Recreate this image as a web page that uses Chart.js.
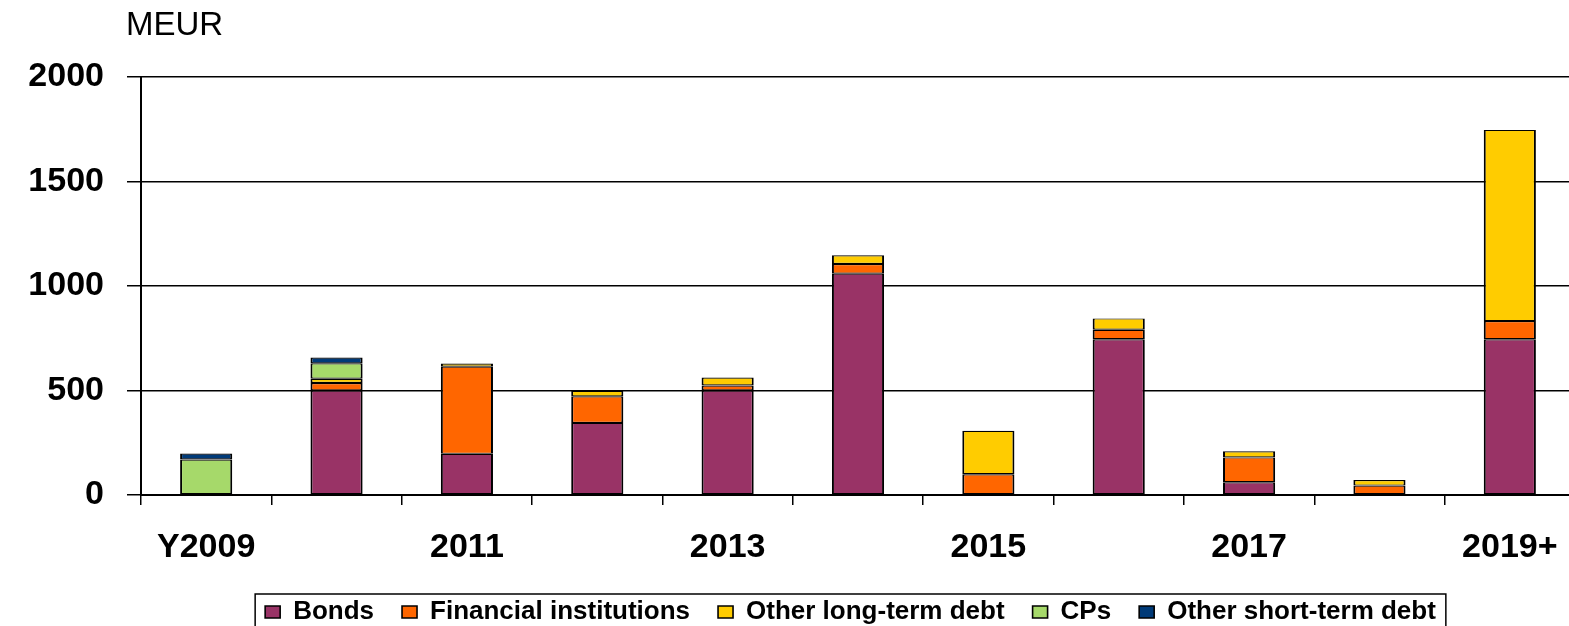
<!DOCTYPE html>
<html lang="en">
  <head>
    <meta charset="utf-8" />
    <title>MEUR debt maturity</title>
    <style>
      html, body { margin: 0; padding: 0; background: #fff; overflow: hidden; }
      #wrap { position: relative; width: 1575px; height: 626px; }
    </style>
  </head>
  <body>
    <div id="wrap">
      <canvas id="myChart"></canvas>
    </div>
    <script src="https://cdn.jsdelivr.net/npm/chart.js"></script>
    <script>
      // categories + stacked series (MEUR)
      const years = ['Y2009', '2010', '2011', '2012', '2013', '2014', '2015', '2016', '2017', '2018', '2019+'];
      const bonds = [null, 500, 197, 345, 500, 1059, null, 745, 61, null, 745];
      const financialInst = [null, 36, 417, 127, 24, 46, 99, 46, 119, 45, 87];
      const otherLongTerm = [null, 20, 15, 27, 38, 42, 208, 54, 29, 27, 915];
      const cps = [170, 74, null, null, null, null, null, null, null, null, null];
      const otherShortTerm = [28, 28, null, null, null, null, null, null, null, null, null];
      const yTicks = [0, 500, 1000, 1500, 2000];

      const font = "'Liberation Sans', Arial, sans-serif";
      Chart.defaults.font.family = font;
      Chart.defaults.color = '#000';

      function series(label, values, color) {
        return {
          label: label,
          data: values,
          backgroundColor: color,
          borderColor: '#000',
          borderWidth: { top: 1.2, bottom: 1.2, left: 2, right: 2 },
          borderSkipped: false,
          categoryPercentage: 1,
          barPercentage: 0.4,
        };
      }

      // "MEUR" unit label above the value axis
      const unitLabel = {
        id: 'unitLabel',
        afterDraw(chart) {
          const ctx = chart.ctx;
          ctx.save();
          ctx.font = '33px ' + font;
          ctx.fillStyle = '#000';
          ctx.textBaseline = 'middle';
          ctx.textAlign = 'left';
          ctx.fillText('MEUR', chart.chartArea.left - 15, 26);
          ctx.restore();
        },
      };

      // legend sits a bit right of centre in the original, with a frame round it
      const legendFrame = {
        id: 'legendFrame',
        afterLayout(chart) {
          chart.legend.left += 63;
          chart.legend.right += 63;
        },
        afterDraw(chart) {
          const boxes = chart.legend.legendHitBoxes;
          if (!boxes || !boxes.length) return;
          let x0 = Infinity, x1 = -Infinity, y0 = Infinity, y1 = -Infinity;
          boxes.forEach((b) => {
            x0 = Math.min(x0, b.left);
            x1 = Math.max(x1, b.left + b.width);
            y0 = Math.min(y0, b.top);
            y1 = Math.max(y1, b.top + b.height);
          });
          const ctx = chart.ctx;
          ctx.save();
          ctx.strokeStyle = '#000';
          ctx.lineWidth = 1.5;
          ctx.strokeRect(x0 - 10, y0 - 5, x1 - x0 + 20, y1 - y0 + 12);
          ctx.restore();
        },
      };

      const config = {
        type: 'bar',
        data: {
          labels: years,
          datasets: [
            series('Bonds', bonds, '#993366'),
            series('Financial institutions', financialInst, '#ff6600'),
            series('Other long-term debt', otherLongTerm, '#ffcc00'),
            series('CPs', cps, '#a6d96a'),
            series('Other short-term debt', otherShortTerm, '#003a78'),
          ],
        },
        options: {
          responsive: true,
          maintainAspectRatio: false,
          animation: false,
          layout: { padding: { top: 77, right: 0, bottom: -9, left: 0 } },
          plugins: {
            tooltip: { enabled: false },
            legend: {
              position: 'bottom',
              labels: {
                font: { size: 26, weight: 'bold' },
                boxWidth: 15,
                boxHeight: 12,
                padding: 28,
              },
            },
          },
          scales: {
            x: {
              stacked: true,
              offset: true,
              border: { color: '#000', width: 2 },
              grid: {
                offset: true,
                drawOnChartArea: false,
                color: '#000',
                lineWidth: 1.5,
                tickLength: 10,
              },
              ticks: {
                autoSkip: false,
                maxRotation: 0,
                padding: 9,
                font: { size: 34, weight: 'bold', lineHeight: 2 },
                callback(value, index) {
                  return index % 2 === 0 ? years[index] : '';
                },
              },
              afterFit(scale) {
                scale.height = 76;
              },
            },
            y: {
              stacked: true,
              min: 0,
              max: 2000,
              afterBuildTicks(scale) {
                scale.ticks = yTicks.map((v) => ({ value: v }));
              },
              border: { color: '#000', width: 2 },
              grid: { color: '#000', lineWidth: 1.5, tickLength: 14 },
              ticks: {
                padding: 23,
                font: { size: 34, weight: 'bold' },
                callback(value) {
                  return String(value);
                },
              },
              afterFit(scale) {
                scale.width = 141;
              },
            },
          },
        },
        plugins: [unitLabel, legendFrame],
      };

      var myChart = new Chart(document.getElementById('myChart'), config);
    </script>
  </body>
</html>
